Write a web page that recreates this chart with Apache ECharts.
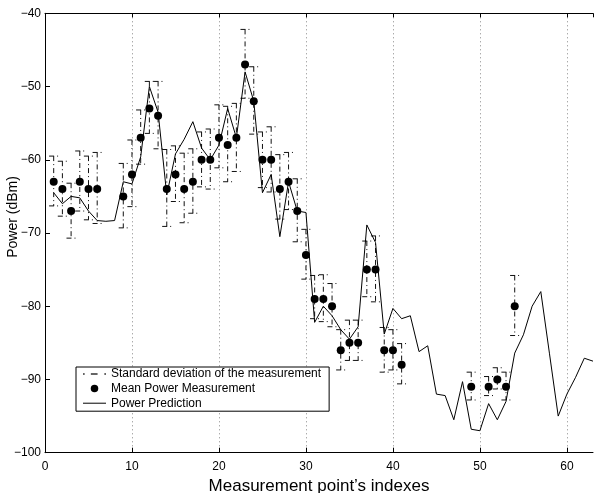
<!DOCTYPE html>
<html>
<head>
<meta charset="utf-8">
<script src="https://cdn.jsdelivr.net/npm/echarts@6/dist/echarts.min.js"></script>
<style>
  html, body { margin: 0; padding: 0; background: #fff; }
  #chart { width: 599px; height: 493px; }
</style>
</head>
<body>
<div id="chart"></div>
<script>
// ---- Data ----
const measX    = [1, 2, 3, 4, 5, 6, 9, 10, 11, 12, 13, 14, 15, 16, 17, 18, 19, 20, 21, 22, 23, 24, 25, 26, 27, 28, 29, 30, 31, 32, 33, 34, 35, 36, 37, 38, 39, 40, 41, 49, 51, 52, 53, 54];
const measMean = [-63, -64, -67, -63, -64, -64, -65, -62, -57, -53, -54, -64, -62, -64, -63, -60, -60, -57, -58, -57, -47, -52, -60, -60, -64, -63, -67, -73, -79, -79, -80, -86, -85, -85, -75, -75, -86, -86, -88, -91, -91, -90, -91, -80];
const measHigh = [-59.5, -60.2, -63.2, -58.8, -59.5, -59, -60.5, -57.3, -53.2, -49.3, -49.3, -58.6, -58.1, -59.1, -58.5, -56.2, -55.8, -52.5, -52.7, -52.3, -42.2, -47.3, -56.2, -55.5, -59.3, -59.0, -62.6, -69.5, -75.8, -75.7, -76.9, -83.2, -81.9, -81.9, -71.1, -70.4, -82.9, -83.2, -85.1, -89.0, -89.6, -88.4, -89.0, -75.8];
const measLow  = [-66.3, -67.7, -70.7, -67, -68.2, -68.7, -69.3, -66.4, -60.6, -56.4, -58.5, -69.1, -65.7, -68.6, -67.3, -63.7, -64, -61.1, -63, -61.6, -51.6, -56.5, -63.8, -64.4, -68.1, -66.8, -71.2, -76.3, -81.7, -82.1, -82.8, -88.7, -87.4, -87.4, -78.7, -79.4, -89.0, -88.7, -90.6, -92.8, -92.2, -91.3, -92.8, -84.0];

const predX = [1, 2, 3, 4, 5, 6, 7, 8, 9, 10, 11, 12, 13, 14, 15, 16, 17, 18, 19, 20, 21, 22, 23, 24, 25, 26, 27, 28, 29, 30, 31, 32, 33, 34, 35, 36, 37, 38, 39, 40, 41, 42, 43, 44, 45, 46, 47, 48, 49, 50, 51, 52, 53, 54, 55, 56, 57, 58, 59, 60, 61, 62, 63];
const predPower = [-64.5, -66, -65, -65.2, -67, -68.3, -68.4, -68.3, -63, -63.3, -59.6, -50, -53.5, -64.8, -59.2, -57.2, -54.8, -58.4, -60, -58, -53, -57, -48, -52, -64.5, -62, -70.5, -63, -67, -67.2, -82.2, -80, -81.3, -83.2, -84.5, -82.8, -68.9, -71.3, -83.8, -80.3, -81.7, -81.3, -86.2, -85.4, -92, -92.2, -95.5, -90.3, -96.8, -97, -93.3, -95.5, -93, -86.4, -83.9, -80, -78, -86.5, -95, -92, -89.7, -87.1, -87.5];

const xTicks = [0, 10, 20, 30, 40, 50, 60];
const yTicks = [-100, -90, -80, -70, -60, -50, -40];

const seriesNames = ['Standard deviation of the measurement', 'Mean Power Measurement', 'Power Prediction'];
const xTitle = "Measurement point\u2019s indexes";
const yTitle = 'Power (dBm)';

// ---- Build ----
const FONT = "'Liberation Sans', Arial, Helvetica, sans-serif";
const capHalf = 0.53;
const minusFmt = v => (v < 0 ? '\u2212' + Math.abs(v) : String(v));

const errData = measX.map((x, i) => [x, measLow[i], measHigh[i]]);
const meanData = measX.map((x, i) => [x, measMean[i]]);
const predData = predX.map((x, i) => [x, predPower[i]]);

const dashStyle = { stroke: '#111', lineWidth: 1, lineDash: [5, 3, 1, 3], fill: null };

const chart = echarts.init(document.getElementById('chart'), null, { renderer: 'canvas' });
chart.setOption({
  animation: false,
  backgroundColor: '#fff',
  textStyle: { fontFamily: FONT },
  grid: { left: 45, right: 6, top: 13.3, bottom: 40.3, containLabel: false, outerBoundsMode: 'none' },
  graphic: [{
    type: 'text',
    x: 13, y: 217,
    rotation: Math.PI / 2,
    style: {
      text: yTitle,
      fontFamily: FONT, fontSize: 14, fill: '#000',
      align: 'center', verticalAlign: 'middle'
    }
  }],
  legend: {
    orient: 'vertical',
    left: 76, top: 367,
    padding: [1, 8, 2, 7],
    itemGap: 2.6,
    itemWidth: 23, itemHeight: 7.5,
    borderColor: '#000', borderWidth: 1,
    backgroundColor: '#fff',
    textStyle: { fontFamily: FONT, fontSize: 12, color: '#000' },
    data: [
      { name: seriesNames[0], icon: 'path://M0,0h1.5v1.2h-1.5z M7,0h6v1.2h-6z M19,0h1.5v1.2h-1.5z', itemStyle: { color: '#333' } },
      { name: seriesNames[1], icon: 'circle', itemStyle: { color: '#000', opacity: 1 } },
      { name: seriesNames[2], icon: 'path://M0,0h23v1h-23z', itemStyle: { color: '#000' } }
    ]
  },
  xAxis: [{
    type: 'value', min: 0, max: 63, interval: 10,
    position: 'bottom',
    name: xTitle, nameLocation: 'middle', nameGap: 16,
    nameTextStyle: { fontFamily: FONT, fontSize: 17, color: '#000' },
    axisLine: { show: true, onZero: false, lineStyle: { color: '#000', width: 1 } },
    axisTick: { show: true, inside: true, length: 5, lineStyle: { color: '#000' } },
    axisLabel: { show: true, margin: 8, fontFamily: FONT, fontSize: 12, color: '#000',
      showMaxLabel: false, formatter: v => (xTicks.indexOf(v) >= 0 ? minusFmt(v) : '') },
    splitLine: { show: true, showMinLine: false, showMaxLine: false, lineStyle: { color: '#888', type: [1, 3], width: 1 } }
  }, {
    type: 'value', min: 0, max: 63, interval: 10,
    position: 'top',
    axisLine: { show: true, onZero: false, lineStyle: { color: '#000', width: 1 } },
    axisTick: { show: true, inside: true, length: 4, lineStyle: { color: '#000' } },
    axisLabel: { show: false },
    splitLine: { show: false }
  }],
  yAxis: {
    type: 'value', min: -100, max: -40, interval: 10,
    axisLine: { show: true, onZero: false, lineStyle: { color: '#000', width: 1 } },
    axisTick: { show: true, inside: true, length: 5, lineStyle: { color: '#000' } },
    axisLabel: { margin: 4, fontFamily: FONT, fontSize: 12, color: '#000', formatter: minusFmt },
    splitLine: { show: false }
  },
  series: [
    {
      name: seriesNames[0],
      type: 'custom',
      data: errData,
      z: 2,
      encode: { x: 0, y: [1, 2] },
      renderItem: (params, api) => {
        const x = api.value(0), lo = api.value(1), hi = api.value(2);
        const top = api.coord([x, hi]);
        const bot = api.coord([x, lo]);
        const xl = api.coord([x - capHalf, hi])[0];
        const xr = api.coord([x + capHalf, hi])[0];
        return {
          type: 'group',
          children: [
            { type: 'line', shape: { x1: top[0], y1: top[1], x2: bot[0], y2: bot[1] }, style: dashStyle },
            { type: 'line', shape: { x1: xl, y1: top[1], x2: xr, y2: top[1] }, style: dashStyle },
            { type: 'line', shape: { x1: xl, y1: bot[1], x2: xr, y2: bot[1] }, style: dashStyle }
          ]
        };
      }
    },
    {
      name: seriesNames[1],
      type: 'scatter',
      data: meanData,
      symbol: 'circle',
      symbolSize: 8,
      z: 4,
      itemStyle: { color: '#000', opacity: 1 }
    },
    {
      name: seriesNames[2],
      type: 'line',
      data: predData,
      symbol: 'none',
      z: 3,
      lineStyle: { color: '#000', width: 1 },
      itemStyle: { color: '#000' }
    }
  ]
});
</script>
</body>
</html>
